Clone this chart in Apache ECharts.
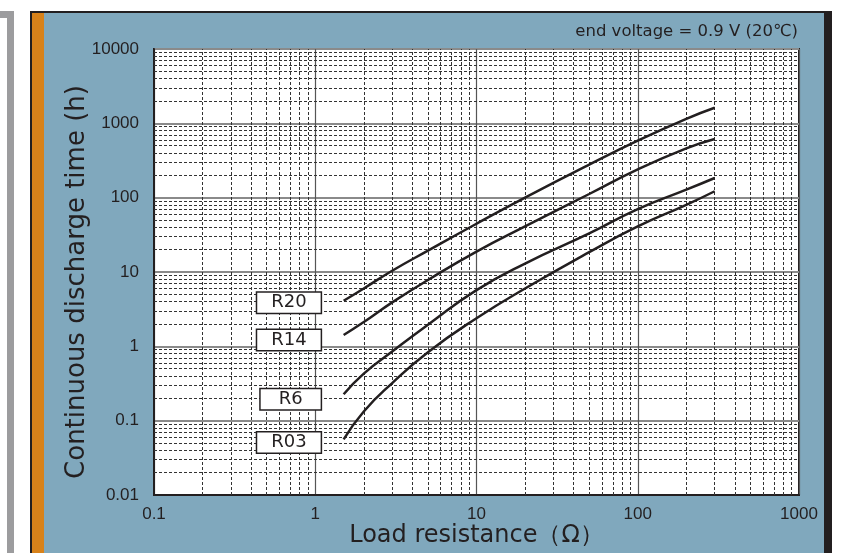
<!DOCTYPE html>
<html>
<head>
<meta charset="utf-8">
<script src="https://cdn.jsdelivr.net/npm/echarts@6/dist/echarts.min.js"></script>
<style>
html,body{margin:0;padding:0;background:#fff;}
#c{width:849px;height:553px;}
</style>
</head>
<body>
<div id="c"></div>
<script>
// Load resistance (Ω)
const resistance = [1.5, 2, 3, 5, 10, 20, 50, 100, 200, 300];
// Continuous discharge time (h)
const r20 = [4.1, 6.0, 10.4, 19.4, 44.6, 100, 278, 584, 1150, 1620];
const r14 = [1.42, 2.12, 3.9, 7.8, 18.8, 41, 112, 240, 460, 615];
const r6  = [0.227, 0.43, 0.85, 1.95, 5.7, 13, 33, 70, 128, 184];
const r03 = [0.056, 0.133, 0.32, 0.834, 2.39, 6.0, 18.5, 41, 80, 122];
const seriesNames = ['R20', 'R14', 'R6', 'R03'];
const xMinor = [0.2,0.3,0.4,0.5,0.6,0.7,0.8,0.9, 2,3,4,5,6,7,8,9, 20,30,40,50,60,70,80,90, 200,300,400,500,600,700,800,900];
const yDecades = [0.01, 0.1, 1, 10, 100, 1000];
const yMinor = [];
yDecades.forEach(d => { for (let k = 2; k <= 9; k++) yMinor.push(+(d * k).toPrecision(3)); });

const ink = '#231f20';
const font = '"Liberation Sans", Arial, Helvetica, sans-serif';
const wide = '"DejaVu Sans", "Liberation Sans", sans-serif';

function mk(name, vals, labelOffset, padX) {
  return {
    name: name,
    type: 'line',
    smooth: 0.5,
    symbol: 'circle',
    symbolSize: 0,
    showSymbol: true,
    z: 5,
    lineStyle: { color: ink, width: 2.5 },
    itemStyle: { color: ink },
    label: { show: false },
    data: vals.map((v, i) => i === 0 ? {
      value: [resistance[i], v],
      label: {
        show: true, position: 'left', distance: 23, offset: [0, labelOffset],
        formatter: name, color: ink, fontSize: 18, fontFamily: wide,
        backgroundColor: '#fff', borderColor: ink, borderWidth: 1.5,
        padding: [1, padX, 0, padX], lineHeight: 19
      }
    } : [resistance[i], v])
  };
}

const chart = echarts.init(document.getElementById('c'), null, { renderer: 'canvas' });
chart.setOption({
  animation: false,
  backgroundColor: '#ffffff',
  graphic: [
    { type: 'rect', shape: { x: 0, y: 11, width: 14, height: 542 }, style: { fill: '#9c9c9e' }, z: -10 },
    { type: 'rect', shape: { x: 0, y: 18, width: 7, height: 535 }, style: { fill: '#ffffff' }, z: -9 },
    { type: 'rect', shape: { x: 30, y: 11, width: 802, height: 542 }, style: { fill: ink }, z: -10 },
    { type: 'rect', shape: { x: 32, y: 13, width: 12, height: 540 }, style: { fill: '#d8821a' }, z: -9 },
    { type: 'rect', shape: { x: 44, y: 13, width: 780, height: 540 }, style: { fill: '#80a8bd' }, z: -9 }
  ],
  title: {
    text: 'end voltage = 0.9 V (20℃)',
    right: 46, top: 18,
    textStyle: { color: ink, fontSize: 16.5, fontWeight: 'normal', fontFamily: wide }
  },
  grid: {
    left: 154, right: 50, top: 49, bottom: 56,
    show: true, backgroundColor: '#ffffff', borderColor: ink, borderWidth: 2, z: 0
  },
  xAxis: {
    type: 'log', logBase: 10, min: 0.1, max: 1000,
    name: 'Load resistance（Ω）', nameLocation: 'middle', nameGap: 29, nameMoveOverlap: false,
    nameTextStyle: { color: ink, fontSize: 24, fontFamily: wide, verticalAlign: 'top' },
    axisLine: { show: true, onZero: false, lineStyle: { color: ink, width: 2 } },
    axisTick: { show: false },
    axisLabel: { color: ink, fontSize: 17, fontFamily: font, margin: 11, formatter: v => String(v) },
    splitLine: { show: true, lineStyle: { color: '#555', width: 1.2 } },
    minorTick: { show: false }, minorSplitLine: { show: false }
  },
  yAxis: {
    type: 'log', logBase: 10, min: 0.01, max: 10000,
    name: 'Continuous discharge time (h)', nameLocation: 'middle', nameGap: 64, nameRotate: 90, nameMoveOverlap: false,
    nameTextStyle: { color: ink, fontSize: 26, fontFamily: wide, padding: [0, 20, 0, 0] },
    axisLine: { show: true, onZero: false, lineStyle: { color: ink, width: 2 } },
    axisTick: { show: false },
    axisLabel: { color: ink, fontSize: 17, fontFamily: font, margin: 15, formatter: v => String(v) },
    splitLine: { show: true, lineStyle: { color: '#8a8a8a', width: 2 } },
    minorTick: { show: false }, minorSplitLine: { show: false }
  },
  series: [
    {
      type: 'line', data: [], z: 1, silent: true,
      markLine: {
        silent: true, symbol: 'none', animation: false,
        label: { show: false },
        lineStyle: { color: '#333', width: 1, type: [3, 2] },
        emphasis: { disabled: true },
        data: xMinor.map(v => ({ xAxis: v })).concat(yMinor.map(v => ({ yAxis: v })))
      }
    },
    mk(seriesNames[0], r20, 2, 14),
    mk(seriesNames[1], r14, 5, 14),
    mk(seriesNames[2], r6, 5, 18),
    mk(seriesNames[3], r03, 3, 14)
  ]
});
</script>
</body>
</html>
